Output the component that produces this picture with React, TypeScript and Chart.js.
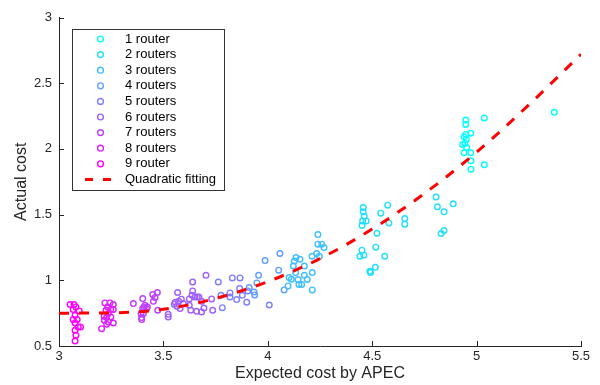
import React, { useEffect, useRef } from "react";
import { Chart, registerables } from "chart.js";

Chart.register(...registerables);

const FONT = "'Liberation Sans', Arial, Helvetica, sans-serif";

const xTitle = "Expected cost by APEC";
const yTitle = "Actual cost";
const xTicks = [3, 3.5, 4, 4.5, 5, 5.5];
const yTicks = [0.5, 1, 1.5, 2, 2.5, 3];

const routerLabels = [
  "1 router",
  "2 routers",
  "3 routers",
  "4 routers",
  "5 routers",
  "6 routers",
  "7 routers",
  "8 routers",
  "9 router",
];
const routerColors = [
  "rgb(0,255,255)",
  "rgb(32,223,255)",
  "rgb(64,191,255)",
  "rgb(96,159,255)",
  "rgb(128,128,255)",
  "rgb(159,96,255)",
  "rgb(191,64,255)",
  "rgb(223,32,255)",
  "rgb(255,0,255)",
];

const r1 = [
  [4.948, 2.219], [4.948, 2.186], [5.037, 2.236], [5.372, 2.278], [4.972, 2.12], [4.949, 2.11],
  [4.94, 2.092], [4.951, 2.074], [4.933, 2.034], [4.944, 2.041], [4.952, 2.011], [4.94, 1.97],
  [4.972, 1.97], [4.973, 1.909], [4.973, 1.846], [5.037, 1.879],
];
const r2 = [
  [4.806, 1.633], [4.812, 1.559], [4.888, 1.582], [4.844, 1.521], [4.656, 1.47], [4.656, 1.427],
  [4.844, 1.379], [4.83, 1.356], [4.457, 1.554], [4.457, 1.521], [4.462, 1.488], [4.454, 1.452],
  [4.471, 1.452], [4.451, 1.417], [4.574, 1.572], [4.541, 1.511], [4.58, 1.437], [4.523, 1.358],
  [4.517, 1.252], [4.451, 1.229], [4.441, 1.183], [4.46, 1.191], [4.56, 1.183], [4.515, 1.099],
  [4.489, 1.069], [4.492, 1.059],
];
const r3 = [
  [4.24, 1.348], [4.24, 1.275], [4.258, 1.275], [4.269, 1.249], [4.135, 1.173], [4.127, 1.147],
  [4.212, 1.183], [4.234, 1.204], [4.247, 1.183], [4.154, 1.16], [4.122, 1.109], [4.175, 1.109],
  [4.133, 1.059], [4.213, 1.059], [4.102, 1.021], [4.113, 1.008], [4.175, 1.038], [4.189, 1.006],
  [4.145, 1.006], [4.097, 0.957], [4.149, 0.968], [4.162, 0.968], [4.213, 0.927],
];
const r4 = [
  [4.058, 1.204], [3.987, 1.15], [4.052, 1.077], [3.956, 1.038], [3.948, 0.98], [3.934, 0.911],
  [3.937, 0.889], [3.911, 0.945], [4.078, 0.927],
];
const r5 = [
  [4.007, 0.812], [3.867, 1.018], [3.83, 1.018], [3.865, 0.937], [3.904, 0.919], [3.878, 0.886],
  [3.899, 0.833], [3.851, 0.853], [3.819, 0.904], [3.819, 0.873], [3.776, 0.886], [3.763, 0.987],
  [3.782, 0.792],
];
const r6 = [
  [3.704, 1.038], [3.64, 0.987], [3.64, 0.919], [3.637, 0.886], [3.662, 0.873], [3.651, 0.873],
  [3.67, 0.873], [3.624, 0.858], [3.683, 0.84], [3.694, 0.789], [3.659, 0.764], [3.683, 0.759],
  [3.624, 0.81], [3.731, 0.858], [3.736, 0.772], [3.568, 0.907], [3.557, 0.833], [3.552, 0.818],
  [3.573, 0.84], [3.586, 0.856], [3.595, 0.823], [3.564, 0.802], [3.58, 0.785], [3.523, 0.741],
  [3.523, 0.721], [3.631, 0.772],
];
const r7 = [
  [3.471, 0.907], [3.449, 0.892], [3.46, 0.869], [3.452, 0.84], [3.473, 0.772], [3.401, 0.861],
  [3.412, 0.81], [3.42, 0.785], [3.401, 0.785], [3.404, 0.747], [3.396, 0.701], [3.356, 0.823],
  [3.407, 0.797], [3.423, 0.797], [3.393, 0.747], [3.396, 0.716],
];
const r8 = [
  [3.22, 0.828], [3.244, 0.828], [3.26, 0.815], [3.233, 0.797], [3.225, 0.772], [3.248, 0.777],
  [3.26, 0.777], [3.236, 0.747], [3.216, 0.726], [3.228, 0.716], [3.248, 0.721], [3.217, 0.696],
  [3.236, 0.683], [3.228, 0.666], [3.204, 0.632], [3.26, 0.675],
];
const r9 = [
  [3.053, 0.815], [3.072, 0.815], [3.081, 0.797], [3.068, 0.777], [3.097, 0.767], [3.077, 0.734],
  [3.068, 0.702], [3.087, 0.702], [3.077, 0.675], [3.092, 0.645], [3.103, 0.645], [3.077, 0.62],
  [3.081, 0.582], [3.077, 0.538],
];
const routerPoints = [r1, r2, r3, r4, r5, r6, r7, r8, r9];

const fitLabel = "Quadratic fitting";
const fitX = [3, 3.25, 3.5, 3.75, 4, 4.25, 4.5, 4.75, 5, 5.25, 5.5];
const fitY = [0.75, 0.752, 0.78, 0.862, 0.99, 1.165, 1.39, 1.66, 1.975, 2.335, 2.72];

const decorPlugin = {
  id: "decor",
  afterDraw(chart: any) {
    const { ctx, chartArea: a } = chart;
    const xs = chart.scales.x;
    const ys = chart.scales.y;
    ctx.save();
    // inward tick marks
    ctx.strokeStyle = "#262626";
    ctx.lineWidth = 1;
    ctx.beginPath();
    for (const t of xs.ticks) {
      const px = Math.round(xs.getPixelForValue(t.value)) + 0.5;
      ctx.moveTo(px, a.bottom);
      ctx.lineTo(px, a.bottom - 5);
    }
    for (const t of ys.ticks) {
      const py = Math.round(ys.getPixelForValue(t.value)) + 0.5;
      ctx.moveTo(a.left, py);
      ctx.lineTo(a.left + 5, py);
    }
    ctx.stroke();

    // axis titles
    ctx.fillStyle = "#262626";
    ctx.font = `16px ${FONT}`;
    ctx.textAlign = "center";
    ctx.textBaseline = "middle";
    ctx.fillText(xTitle, (a.left + a.right) / 2, 374);
    ctx.save();
    ctx.translate(21.5, (a.top + a.bottom) / 2);
    ctx.rotate(-Math.PI / 2);
    ctx.fillText(yTitle, 0, 0);
    ctx.restore();

    // legend
    const bx = 72.5, by = 29.5, bw = 152, bh = 161;
    ctx.fillStyle = "#ffffff";
    ctx.fillRect(bx, by, bw, bh);
    ctx.strokeStyle = "#333333";
    ctx.lineWidth = 1;
    ctx.strokeRect(bx, by, bw, bh);
    ctx.font = `13px ${FONT}`;
    ctx.textAlign = "left";
    ctx.textBaseline = "middle";
    const rowH = 15.6;
    for (let i = 0; i < routerLabels.length; i++) {
      const yy = 39 + i * rowH;
      ctx.beginPath();
      ctx.strokeStyle = routerColors[i];
      ctx.lineWidth = 1.4;
      ctx.arc(100.5, yy, 2.9, 0, Math.PI * 2);
      ctx.stroke();
      ctx.fillStyle = "#000000";
      ctx.fillText(routerLabels[i], 125, yy);
    }
    const fy = 39 + 9 * rowH;
    ctx.beginPath();
    ctx.strokeStyle = "#ff0000";
    ctx.lineWidth = 3;
    ctx.setLineDash([8, 10]);
    ctx.moveTo(85, fy);
    ctx.lineTo(112, fy);
    ctx.stroke();
    ctx.setLineDash([]);
    ctx.fillStyle = "#000000";
    ctx.fillText(fitLabel, 125, fy);
    ctx.restore();
  },
};

export default function App() {
  const ref = useRef<HTMLCanvasElement | null>(null);

  useEffect(() => {
    if (!ref.current) return;
    const datasets: any[] = routerPoints.map((pts, i) => ({
      type: "scatter",
      label: routerLabels[i],
      data: pts.map(([x, y]) => ({ x, y })),
      borderColor: routerColors[i],
      backgroundColor: "rgba(0,0,0,0)",
      pointBackgroundColor: "rgba(0,0,0,0)",
      pointBorderColor: routerColors[i],
      pointRadius: 2.8,
      pointBorderWidth: 1.4,
      pointStyle: "circle",
      showLine: false,
      order: 1,
    }));
    datasets.push({
      type: "line",
      label: fitLabel,
      data: fitX.map((x, i) => ({ x, y: fitY[i] })),
      borderColor: "#ff0000",
      borderWidth: 3,
      borderDash: [10, 10],
      pointRadius: 0,
      fill: false,
      cubicInterpolationMode: "monotone",
      order: 0,
    });

    const chart = new Chart(ref.current, {
      type: "scatter",
      data: { datasets },
      options: {
        animation: false,
        responsive: false,
        events: [],
        layout: { padding: { left: 0, right: 19, top: 17.5, bottom: 0 } },
        plugins: {
          legend: { display: false },
          tooltip: { enabled: false },
        },
        scales: {
          x: {
            type: "linear",
            min: 3,
            max: 5.5,
            afterBuildTicks: (s: any) => {
              s.ticks = xTicks.map((v) => ({ value: v }));
            },
            afterFit: (s: any) => {
              s.height = 39;
            },
            ticks: {
              autoSkip: false,
              maxRotation: 0,
              padding: 3,
              color: "#262626",
              font: { family: FONT, size: 13 },
              callback: (v: any) => String(v),
            },
            grid: { display: false, drawTicks: false },
            border: { display: true, color: "#262626", width: 1 },
          },
          y: {
            type: "linear",
            min: 0.5,
            max: 3,
            afterBuildTicks: (s: any) => {
              s.ticks = yTicks.map((v) => ({ value: v }));
            },
            afterFit: (s: any) => {
              s.width = 59;
            },
            ticks: {
              autoSkip: false,
              padding: 7,
              color: "#262626",
              font: { family: FONT, size: 13 },
              callback: (v: any) => String(v),
            },
            grid: { display: false, drawTicks: false },
            border: { display: true, color: "#262626", width: 1 },
          },
        },
      },
      plugins: [decorPlugin],
    });
    return () => chart.destroy();
  }, []);

  return (
    <div
      style={{
        position: "fixed",
        left: 0,
        top: 0,
        width: 600,
        height: 385,
        background: "#ffffff",
      }}
    >
      <canvas ref={ref} width={600} height={385} style={{ width: 600, height: 385 }} />
    </div>
  );
}
